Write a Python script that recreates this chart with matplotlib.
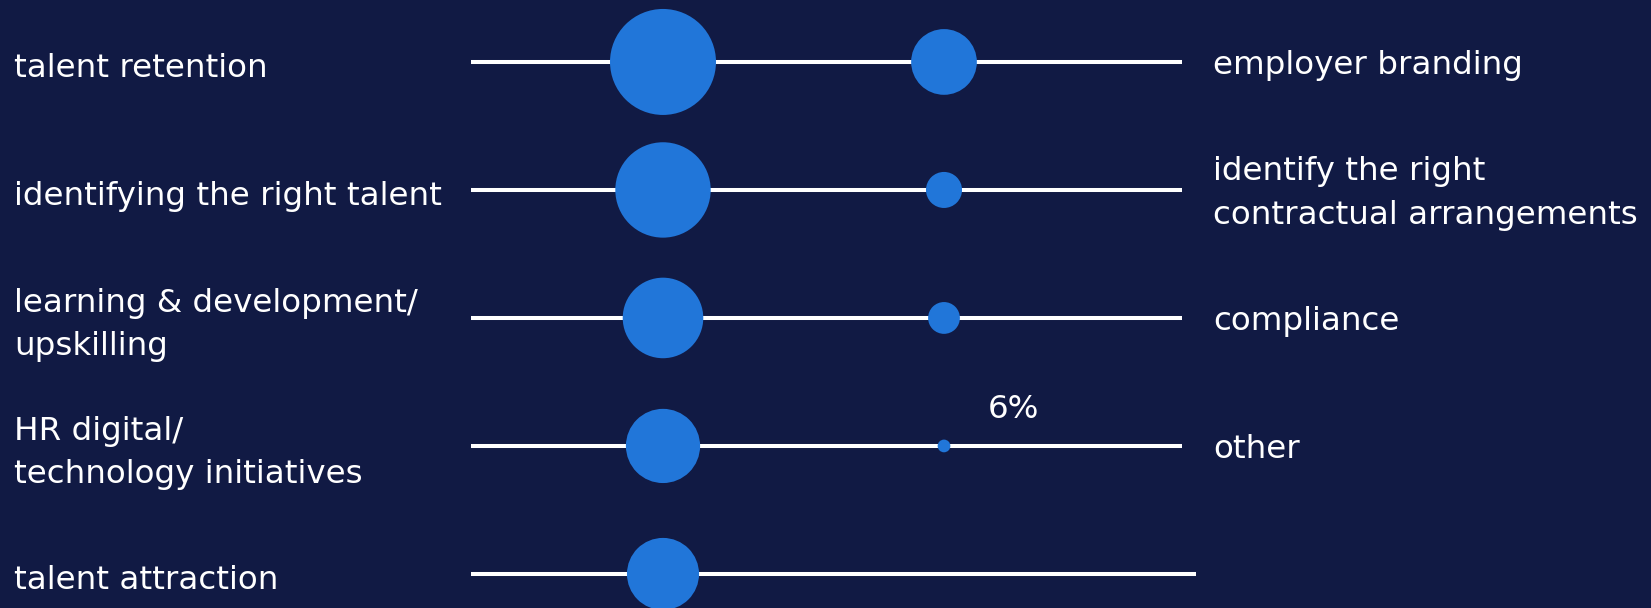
import numpy as np
import matplotlib.pyplot as plt

# survey shares (%) - left column vs right column of priorities
left_labels = ["talent retention",
               "identifying the right talent",
               "learning & development/\nupskilling",
               "HR digital/\ntechnology initiatives",
               "talent attraction"]
left_values = [50, 45, 38, 35, 34]

right_labels = ["employer branding",
                "identify the right\ncontractual arrangements",
                "compliance",
                "other"]
right_values = [31, 17, 15, 6]

# only the smallest bubble gets its value printed
shown_value_label = "other"

BG = "#111a44"
BLUE = "#2176d9"

fig = plt.figure(figsize=(16.51, 6.08), dpi=100, facecolor=BG)
ax = fig.add_axes([0, 0, 1, 1])
ax.set_facecolor(BG)
ax.set_xlim(0, 1651)
ax.set_ylim(4.266, -0.484)
ax.axis("off")

left_x, right_x = 663, 944
px_per_pct = 2.12   # bubble diameter in pixels per percentage point


def bubble_size(v):
    d_pt = v * px_per_pct * 72 / fig.dpi
    return d_pt ** 2


rows = np.arange(len(left_labels))

# track lines
for i in rows:
    x_end = 1182 if i < len(right_labels) else 1196
    ax.plot([471, x_end], [i, i], color="white", lw=2.9,
            solid_capstyle="butt", zorder=1)

ax.scatter([left_x] * len(left_values), rows, s=[bubble_size(v) for v in left_values],
           color=BLUE, linewidths=0, zorder=2)
ax.scatter([right_x] * len(right_values), rows[:len(right_values)],
           s=[bubble_size(v) for v in right_values],
           color=BLUE, linewidths=0, zorder=2)

font = dict(color="white", fontsize=23.4, family="DejaVu Sans", linespacing=1.52)
dy = 0.055  # nudge labels down so the x-height sits on the track

for i, lab in enumerate(left_labels):
    ax.text(14, i + dy, lab, ha="left", va="center", **font)

for i, lab in enumerate(right_labels):
    ax.text(1213, i + dy * 0.5, lab, ha="left", va="center", **font)
    if lab == shown_value_label:
        ax.annotate(f"{right_values[i]}%", (right_x, i), xytext=(50, 26),
                    textcoords="offset points", ha="center", va="center", **font)

fig.savefig("out.png", dpi=100, facecolor=BG)
